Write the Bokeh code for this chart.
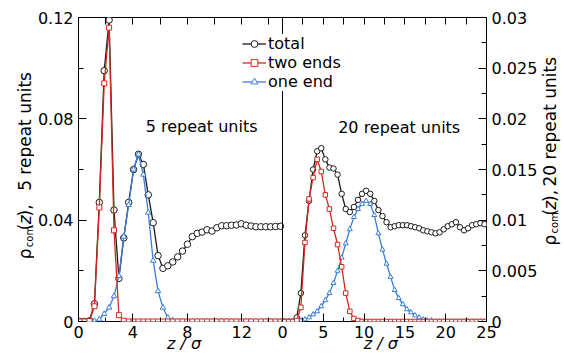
from bokeh.plotting import figure
from bokeh.layouts import row
from bokeh.models import (Range1d, LinearAxis, FixedTicker, Span, Legend,
                          LegendItem, Label)
from bokeh.embed import file_html
from bokeh.resources import INLINE
import math

# ---------------- data: 5 repeat units (left panel) ----------------
z5 = [0.09, 0.45, 0.81, 1.17, 1.53, 1.89, 2.25, 2.61, 2.97, 3.33, 3.69, 4.05,
      4.41, 4.77, 5.13, 5.49, 5.85, 6.21, 6.57, 6.93, 7.29, 7.65, 8.01, 8.37,
      8.73, 9.09, 9.45, 9.81, 10.17, 10.53, 10.89, 11.25, 11.61, 11.97, 12.33,
      12.69, 13.05, 13.41, 13.77, 14.13, 14.49, 14.85]
total5 = [0, 0, 0.0003, 0.007, 0.047, 0.099, 0.119, 0.044, 0.017, 0.033, 0.047,
          0.060, 0.066, 0.062, 0.050, 0.039, 0.026, 0.021, 0.022, 0.0235, 0.0255,
          0.0278, 0.0305, 0.0335, 0.0348, 0.0353, 0.0362, 0.0357, 0.037, 0.0378,
          0.0378, 0.038, 0.0381, 0.0386, 0.038, 0.0377, 0.0374, 0.0374, 0.0374,
          0.0374, 0.0375, 0.0376]
two5 = [0, 0, 0.0002, 0.006, 0.045, 0.094, 0.116, 0.036, 0.0025, 0.0003,
        0, 0, 0, 0, 0, 0, 0, 0, 0, 0, 0, 0, 0, 0, 0, 0, 0, 0, 0, 0, 0, 0,
        0, 0, 0, 0, 0, 0, 0, 0, 0, 0]
one5 = [0, 0, 0, 0.0002, 0.0008, 0.003, 0.0055, 0.010, 0.018, 0.0335, 0.046,
        0.060, 0.066, 0.058, 0.043, 0.024, 0.012, 0.0055, 0.0015, 0.0004,
        0, 0, 0, 0, 0, 0, 0, 0, 0, 0, 0, 0, 0, 0, 0, 0, 0, 0, 0, 0, 0, 0]

# ---------------- data: 20 repeat units (right panel) ----------------
z20 = [0.25, 0.75, 1.25, 1.75, 2.25, 2.75, 3.25, 3.75, 4.25, 4.75, 5.25, 5.75,
       6.25, 6.75, 7.25, 7.75, 8.25, 8.75, 9.25, 9.75, 10.25, 10.75, 11.25,
       11.75, 12.25, 12.75, 13.25, 13.75, 14.25, 14.75, 15.25, 15.75, 16.25,
       16.75, 17.25, 17.75, 18.25, 18.75, 19.25, 19.75, 20.25, 20.75, 21.25,
       21.75, 22.25, 22.75, 23.25, 23.75, 24.25, 24.75]
total20 = [0, 0, 0, 0.0004, 0.0028, 0.0085, 0.0119, 0.015, 0.0168, 0.0171,
           0.016, 0.0152, 0.0151, 0.0145, 0.0126, 0.0111, 0.0108, 0.0113, 0.012,
           0.0126, 0.0129, 0.0126, 0.0119, 0.011, 0.0104, 0.0098, 0.0093, 0.0094,
           0.0095, 0.0095, 0.0095, 0.0094, 0.0093, 0.0092, 0.009, 0.0089, 0.0088,
           0.0087, 0.0088, 0.0091, 0.0094, 0.0096, 0.0098, 0.0093, 0.009, 0.0092,
           0.0095, 0.0096, 0.0097, 0.0096]
two20 = [0, 0, 0, 0.0001, 0.0014, 0.0078, 0.0121, 0.0142, 0.0160, 0.0148,
         0.0125, 0.0111, 0.0092, 0.0076, 0.0054, 0.0028, 0.0010, 0.0003, 0.0001,
         0, 0, 0, 0, 0, 0, 0, 0, 0, 0, 0, 0, 0, 0, 0, 0, 0, 0, 0, 0, 0, 0, 0,
         0, 0, 0, 0, 0, 0, 0, 0]
one20 = [0, 0, 0, 0, 0.0001, 0.0002, 0.0004, 0.0007, 0.001, 0.0015, 0.0021,
         0.0028, 0.0038, 0.005, 0.0063, 0.0077, 0.0091, 0.0103, 0.0111, 0.0116,
         0.0119, 0.0116, 0.0105, 0.0087, 0.0071, 0.0057, 0.0044, 0.0031, 0.0023,
         0.0017, 0.0012, 0.0009, 0.0006, 0.0004, 0.0002, 0.0001, 0.0001,
         0, 0, 0, 0, 0, 0, 0, 0, 0, 0, 0, 0, 0]

# ---------------- ticks ----------------
x5_major = [0, 4, 8, 12]
x5_labels = ["0", "4", "8", "12"]
x5_minor = [2, 6, 10, 14]
x5_top = [0, 2, 4, 6, 8, 10, 12, 14]
y5_major = [0, 0.04, 0.08, 0.12]
y5_labels = ["0", "0.04", "0.08", "0.12"]
y5_minor = [0.02, 0.06, 0.10]
x20_major = [0, 5, 10, 15, 20, 25]
x20_labels = ["0", "5", "10", "15", "20", "25"]
x20_minor = [2.5, 7.5, 12.5, 17.5, 22.5]
x20_top = [0, 2.5, 5, 7.5, 10, 12.5, 15, 17.5, 20, 22.5, 25]
y20_major = [0, 0.005, 0.01, 0.015, 0.02, 0.025, 0.03]
y20_labels = ["0", "0.005", "0.01", "0.015", "0.02", "0.025", "0.03"]
y20_minor = [0.0025, 0.0075, 0.0125, 0.0175, 0.0225, 0.0275]

BLACK = "#1a1a1a"
RED = "#d42a1e"
BLUE = "#3a7fd6"
FONT = "DejaVu Sans"

H = 356
SL, SR = 34, 24              # widths of the strips holding the y titles
W = 564 - SL - SR            # main plot width
ML, MT, MB = 77 - SL, 17, 35
MR = (564 - SR) - 488

# Both panels share one frame: the left panel uses the default x range
# (0..30, its own data occupies 0..15); the right panel uses range "rx"
# (-25..25, its own data occupies 0..25).
XL = Range1d(0, 30)
XR = Range1d(-25, 25)
p = figure(width=W, height=H, x_range=XL, y_range=Range1d(0, 0.12),
           x_axis_type=None, y_axis_type=None, toolbar_location=None,
           output_backend="svg", min_border_left=ML, min_border_right=MR,
           min_border_top=MT, min_border_bottom=MB)
p.extra_x_ranges = {"rx": XR}
p.extra_y_ranges = {"ry": Range1d(0, 0.03)}
p.outline_line_color = "black"
p.outline_line_width = 1
p.background_fill_color = "white"
p.border_fill_color = "white"


def r2l(v):
    """Position of a right-panel x value on the shared (default) x range."""
    return XL.start + (v - XR.start) * (XL.end - XL.start) / (XR.end - XR.start)


def style_axis(ax, major, minor, labels=None, tin=8, mtin=4):
    ax.ticker = FixedTicker(ticks=major, minor_ticks=minor)
    ax.axis_line_color = None
    ax.major_tick_in = tin
    ax.major_tick_out = 0
    ax.minor_tick_in = mtin
    ax.minor_tick_out = 0
    ax.major_tick_line_color = "black"
    ax.minor_tick_line_color = "black"
    ax.major_label_text_font = FONT
    ax.major_label_text_font_size = "16px"
    ax.major_label_text_color = "black"
    if labels is not None:
        ax.major_label_overrides = {v: s for v, s in zip(major, labels)}


# bottom axis carrying the ticks of both panels, and both x titles
bx_major = x5_major + [r2l(v) for v in x20_major]
bx_labels = x5_labels + x20_labels
bx_minor = x5_minor + [r2l(v) for v in x20_minor]
ax_b = LinearAxis()
style_axis(ax_b, bx_major, bx_minor, labels=bx_labels)
ax_b.major_label_standoff = 4
ax_b.axis_label = "z / \u03c3" + "\u00a0" * 32 + "z / \u03c3"
ax_b.axis_label_text_font = FONT
ax_b.axis_label_text_font_size = "16px"
ax_b.axis_label_text_font_style = "italic"
ax_b.axis_label_text_color = "black"
ax_b.axis_label_standoff = -7
p.add_layout(ax_b, "below")

# top axis: ticks only
ax_t = LinearAxis()
style_axis(ax_t, [], x5_top + [r2l(v) for v in x20_top], mtin=7)
p.add_layout(ax_t, "above")

ax_l = LinearAxis()
style_axis(ax_l, y5_major, y5_minor, labels=y5_labels, tin=8, mtin=5)
ax_l.major_label_standoff = 5
p.add_layout(ax_l, "left")

ax_r = LinearAxis(y_range_name="ry")
style_axis(ax_r, y20_major, y20_minor, labels=y20_labels, tin=8, mtin=5)
ax_r.major_label_standoff = 5
p.add_layout(ax_r, "right")

# divider between the two panels
p.add_layout(Span(location=15, dimension="height", line_color="black",
                  line_width=1))

# ---------------- series ----------------
def series(x, y, color, marker, size, xr="default", yr="default"):
    ln = p.line(x, y, line_color=color, line_width=1.3,
                x_range_name=xr, y_range_name=yr)
    pts = p.scatter(x, y, marker=marker, size=size, line_color=color,
                    fill_color="white", line_width=1,
                    x_range_name=xr, y_range_name=yr)
    return ln, pts

t5 = series(z5, total5, BLACK, "circle", 6.5)
o5 = series(z5, one5, BLUE, "triangle", 5.5)
w5 = series(z5, two5, RED, "square", 5)

t20 = series(z20, total20, BLACK, "circle", 5.5, "rx", "ry")
o20 = series(z20, one20, BLUE, "triangle", 5, "rx", "ry")
w20 = series(z20, two20, RED, "square", 4.5, "rx", "ry")

legend = Legend(items=[LegendItem(label="total", renderers=list(t5)),
                       LegendItem(label="two ends", renderers=list(w5)),
                       LegendItem(label="one end", renderers=list(o5))],
                location=(164, 230), padding=10, spacing=-2, margin=0,
                glyph_width=24, glyph_height=17, label_height=17,
                label_standoff=2, label_text_font=FONT,
                label_text_font_size="16px", label_text_color="black",
                border_line_color=None, background_fill_color="white",
                background_fill_alpha=1)
p.add_layout(legend)


def panel_label(fig, s, x, y, **kw):
    fig.add_layout(Label(x=x, y=y, text=s, text_font=FONT,
                         text_color="black", **kw))


panel_label(p, "5 repeat units", 9.05, 0.077, text_font_size="16px",
            text_align="center", text_baseline="middle")
panel_label(p, "20 repeat units", 14.3, 0.0191, x_range_name="rx",
            y_range_name="ry", text_font_size="16px", text_align="center",
            text_baseline="middle")


# ---------------- strips holding the rotated y titles ----------------
def strip(width):
    s = figure(width=width, height=H, x_range=Range1d(0, width),
               y_range=Range1d(0, H), x_axis_type=None, y_axis_type=None,
               toolbar_location=None, output_backend="svg", min_border=0,
               min_border_left=0, min_border_right=0, min_border_top=0,
               min_border_bottom=0)
    s.outline_line_color = None
    s.background_fill_color = "white"
    s.border_fill_color = "white"
    return s


up = math.pi / 2


def vtitle(fig, pieces, xc):
    # pieces: (text, offset across, start position from top, size, style)
    for text, dxp, top, size, style in pieces:
        panel_label(fig, text, xc + dxp, H - top, angle=up,
                    text_font_size=size, text_font_style=style,
                    text_align="left", text_baseline="middle")


left_strip = strip(SL)
vtitle(left_strip, [("\u03c1", 0, 283, "17px", "normal"),
                    ("com", 5, 269, "10px", "normal"),
                    ("(", 0, 249, "17px", "normal"),
                    ("z", 0, 242, "17px", "italic"),
                    ("),", 0, 233, "17px", "normal"),
                    ("5 repeat units", 0, 203, "17px", "normal")], 24)

right_strip = strip(SR)
vtitle(right_strip, [("\u03c1", 0, 267, "17px", "normal"),
                     ("com", 5, 253, "10px", "normal"),
                     ("(", 0, 232, "17px", "normal"),
                     ("z", 0, 225, "17px", "italic"),
                     ("),", 0, 216, "17px", "normal"),
                     ("20 repeat units", 0, 198, "17px", "normal")], 9)

layout = row(left_strip, p, right_strip, spacing=0)
open("out.html", "w").write(file_html(layout, INLINE))
